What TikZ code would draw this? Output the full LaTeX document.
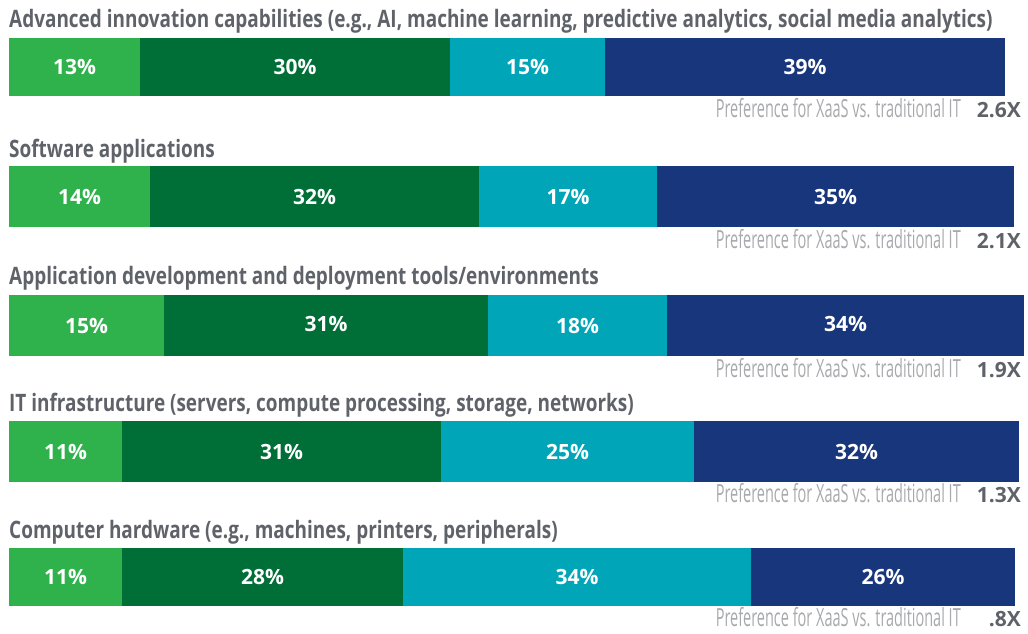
\documentclass[tikz,border=0pt]{standalone}
\usepackage{fontspec}
\setmainfont{Open Sans}
\newfontfamily\titlefont[FakeStretch=0.79]{Open Sans}
\newfontfamily\preffont[FakeStretch=0.58]{Open Sans}
\definecolor{lgreen}{HTML}{2FB24C}
\definecolor{dgreen}{HTML}{006E37}
\definecolor{teal}{HTML}{00A5B8}
\definecolor{navy}{HTML}{18367B}
\definecolor{tgray}{HTML}{5F6369}
\definecolor{pgray}{HTML}{A7A9AC}
\tikzset{
  seg/.style={anchor=north west, inner sep=0pt, outer sep=0pt, text=white,
    font=\fontsize{21}{24}\selectfont\bfseries},
  ttl/.style={anchor=base west, inner sep=0pt, text=tgray,
    font=\titlefont\fontsize{24}{28}\selectfont\bfseries},
  pref/.style={anchor=base east, inner sep=0pt, text=pgray,
    font=\preffont\fontsize{25}{28}\selectfont},
  mult/.style={anchor=base east, inner sep=0pt, text=tgray,
    font=\fontsize{21}{24}\selectfont\bfseries},
}
\begin{document}
\begin{tikzpicture}[x=1pt,y=-1pt]
\useasboundingbox (0,0) rectangle (1028,633);
% ---------- Bar 1
\node[ttl] (t1) at (9,27) {Advanced innovation capabilities (e.g., AI, machine learning, predictive analytics, social media analytics)};
\node[seg, fill=lgreen, minimum width=131pt, minimum height=58pt] (b1a) at (9,38) {13\%};
\node[seg, fill=dgreen, minimum width=310pt, minimum height=58pt] (b1b) at (140,38) {30\%};
\node[seg, fill=teal,   minimum width=155pt, minimum height=58pt] (b1c) at (450,38) {15\%};
\node[seg, fill=navy,   minimum width=400pt, minimum height=58pt] (b1d) at (605,38) {39\%};
\node[pref] (p1) at (961,117) {Preference for XaaS vs. traditional IT};
\node[mult] (m1) at (1021,117) {2.6X};
% ---------- Bar 2
\node[ttl] (t2) at (9,157) {Software applications};
\node[seg, fill=lgreen, minimum width=141pt, minimum height=61pt] (b2a) at (9,166) {14\%};
\node[seg, fill=dgreen, minimum width=329pt, minimum height=61pt] (b2b) at (150,166) {32\%};
\node[seg, fill=teal,   minimum width=178pt, minimum height=61pt] (b2c) at (479,166) {17\%};
\node[seg, fill=navy,   minimum width=357pt, minimum height=61pt] (b2d) at (657,166) {35\%};
\node[pref] (p2) at (961,248) {Preference for XaaS vs. traditional IT};
\node[mult] (m2) at (1021,248) {2.1X};
% ---------- Bar 3
\node[ttl] (t3) at (9,284) {Application development and deployment tools/environments};
\node[seg, fill=lgreen, minimum width=155pt, minimum height=61pt] (b3a) at (9,295) {\raisebox{-4pt}{15\%}};
\node[seg, fill=dgreen, minimum width=324pt, minimum height=61pt] (b3b) at (164,295) {\raisebox{3pt}{31\%}};
\node[seg, fill=teal,   minimum width=179pt, minimum height=61pt] (b3c) at (488,295) {\raisebox{-4pt}{18\%}};
\node[seg, fill=navy,   minimum width=357pt, minimum height=61pt] (b3d) at (667,295) {\raisebox{3pt}{34\%}};
\node[pref] (p3) at (961,377) {Preference for XaaS vs. traditional IT};
\node[mult] (m3) at (1021,377) {1.9X};
% ---------- Bar 4
\node[ttl] (t4) at (9,411) {IT infrastructure (servers, compute processing, storage, networks)};
\node[seg, fill=lgreen, minimum width=113pt, minimum height=61pt] (b4a) at (9,421) {11\%};
\node[seg, fill=dgreen, minimum width=319pt, minimum height=61pt] (b4b) at (122,421) {31\%};
\node[seg, fill=teal,   minimum width=253pt, minimum height=61pt] (b4c) at (441,421) {25\%};
\node[seg, fill=navy,   minimum width=325pt, minimum height=61pt] (b4d) at (694,421) {32\%};
\node[pref] (p4) at (961,502) {Preference for XaaS vs. traditional IT};
\node[mult] (m4) at (1021,502) {1.3X};
% ---------- Bar 5
\node[ttl] (t5) at (9,538) {Computer hardware (e.g., machines, printers, peripherals)};
\node[seg, fill=lgreen, minimum width=113pt, minimum height=58pt] (b5a) at (9,548) {11\%};
\node[seg, fill=dgreen, minimum width=281pt, minimum height=58pt] (b5b) at (122,548) {28\%};
\node[seg, fill=teal,   minimum width=348pt, minimum height=58pt] (b5c) at (403,548) {34\%};
\node[seg, fill=navy,   minimum width=264pt, minimum height=58pt] (b5d) at (751,548) {26\%};
\node[pref] (p5) at (961,626) {Preference for XaaS vs. traditional IT};
\node[mult] (m5) at (1021,626) {.8X};
\end{tikzpicture}
\end{document}
